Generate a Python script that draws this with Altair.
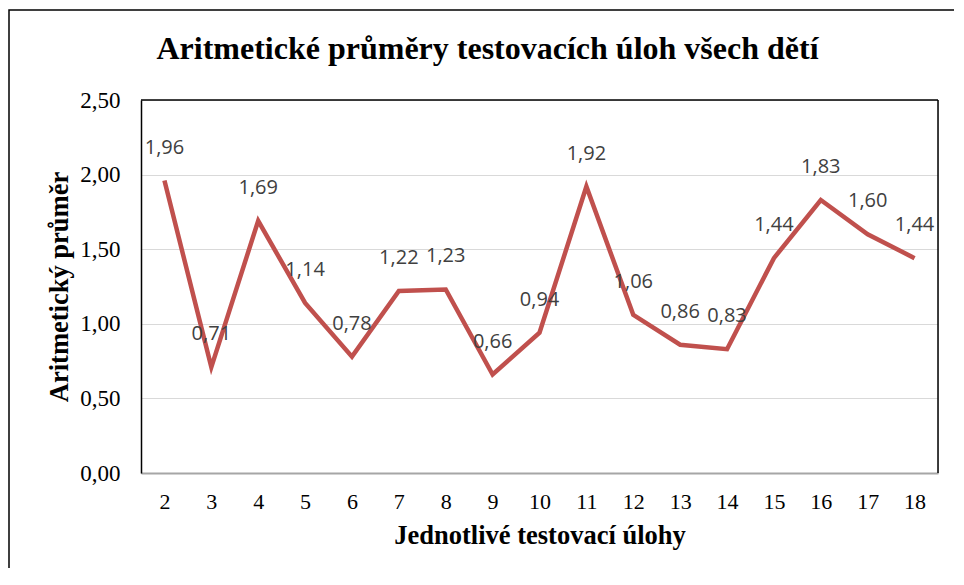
import altair as alt
import pandas as pd

tasks = ["2", "3", "4", "5", "6", "7", "8", "9", "10", "11", "12", "13", "14", "15", "16", "17", "18"]
means = [1.96, 0.71, 1.69, 1.14, 0.78, 1.22, 1.23, 0.66, 0.94, 1.92, 1.06, 0.86, 0.83, 1.44, 1.83, 1.60, 1.44]
y_ticks = [0.0, 0.5, 1.0, 1.5, 2.0, 2.5]
title_text = "Aritmetické průměry testovacích úloh všech dětí"

df = pd.DataFrame({"task": tasks, "mean": means})
one = pd.DataFrame({"t": [title_text]})

W, H = 797, 373
SERIF = "Liberation Serif"

x = alt.X("task:O", sort=tasks,
          scale=alt.Scale(type="point", padding=0.5),
          axis=alt.Axis(title="Jednotlivé testovací úlohy", labelAngle=0,
                        labelFont=SERIF, labelFontSize=22, labelColor="#000000",
                        labelPadding=18, ticks=False, domain=True,
                        domainColor="#a6a6a6", domainWidth=2,
                        titleFont=SERIF, titleFontSize=26.5, titleFontWeight="bold",
                        titleColor="#000000", titlePadding=10, grid=False))
y = alt.Y("mean:Q",
          scale=alt.Scale(domain=[0, 2.5], nice=False, zero=True),
          axis=alt.Axis(title="Aritmetický průměr", values=y_ticks,
                        labelExpr="replace(format(datum.value, '.2f'), '.', ',')",
                        labelFont=SERIF, labelFontSize=23, labelColor="#000000",
                        labelPadding=21, ticks=False, domain=True,
                        domainColor="#000000", domainWidth=1.5,
                        titleFont=SERIF, titleFontSize=26.5, titleFontWeight="bold",
                        titleColor="#000000", titlePadding=6,
                        grid=True, gridColor="#d9d9d9", gridWidth=1))

base = alt.Chart(df).encode(x=x, y=y)

line = base.mark_line(color="#C0504D", strokeWidth=4.5, strokeJoin="miter")

labels = base.mark_text(font="Open Sans", fontSize=20, color="#404040",
                        dy=-33, baseline="middle").transform_calculate(
    lab="replace(format(datum.mean, '.2f'), '.', ',')"
).encode(text="lab:N")

border_top = alt.Chart(one).mark_rule(color="#000000", strokeWidth=1.5).encode(
    x=alt.value(0), x2=alt.value(W), y=alt.value(0))
border_right = alt.Chart(one).mark_rule(color="#000000", strokeWidth=1.5).encode(
    x=alt.value(W), y=alt.value(0), y2=alt.value(H))
outer = alt.Chart(one).mark_rect(filled=False, stroke="#000000", strokeWidth=1.5).encode(
    x=alt.value(-132), x2=alt.value(W + 40), y=alt.value(-90), y2=alt.value(H + 150))
title = alt.Chart(one).mark_text(font=SERIF, fontSize=32, fontWeight="bold",
                                 color="#000000", align="center",
                                 baseline="alphabetic").encode(
    text="t:N", x=alt.value(346.5), y=alt.value(-41))

chart = alt.layer(outer, line, labels, border_top, border_right, title).properties(
    width=W, height=H,
    autosize=alt.AutoSizeParams(type="none"),
    padding={"left": 133, "top": 92, "right": 16, "bottom": 95},
).configure_view(stroke=None).configure(background="#ffffff")

chart.save("out.html", embed_options={"renderer": "svg", "actions": False})
